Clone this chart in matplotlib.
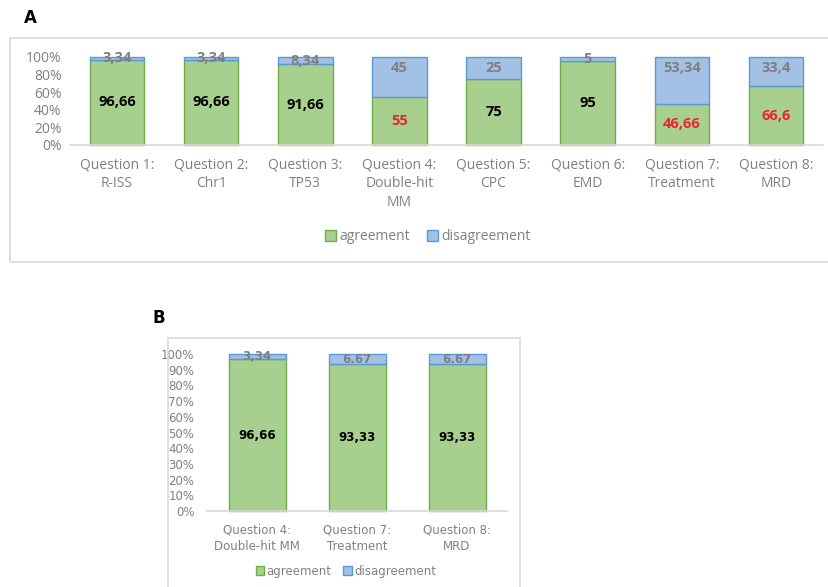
import numpy as np
import matplotlib.pyplot as plt
from matplotlib.patches import Rectangle

# dati pannello A
cat_a = ['Question 1:\nR-ISS', 'Question 2:\nChr1', 'Question 3:\nTP53', 'Question 4:\nDouble-hit\nMM',
         'Question 5:\nCPC', 'Question 6:\nEMD', 'Question 7:\nTreatment', 'Question 8:\nMRD']
agree_a = [96.66, 96.66, 91.66, 55, 75, 95, 46.66, 66.6]
disagree_a = [3.34, 3.34, 8.34, 45, 25, 5, 53.34, 33.4]
lab_agree_a = ['96,66', '96,66', '91,66', '55', '75', '95', '46,66', '66,6']
lab_dis_a = ['3,34', '3,34', '8,34', '45', '25', '5', '53,34', '33,4']
red_a = [False, False, False, True, False, False, True, True]

# dati pannello B
cat_b = ['Question 4:\nDouble-hit MM', 'Question 7:\nTreatment', 'Question 8:\nMRD']
agree_b = [96.66, 93.33, 93.33]
disagree_b = [3.34, 6.67, 6.67]
lab_agree_b = ['96,66', '93,33', '93,33']
lab_dis_b = ['3,34', '6.67', '6.67']

green = '#a7d08f'
green_e = '#70ad47'
blue = '#a3c1e5'
blue_e = '#5b9bd5'
grey = '#808080'

W, H = 829, 587
fig = plt.figure(figsize=(W/100, H/100), dpi=100)

# cornici
fig.patches.append(Rectangle((10/W, 1-262/H), 830/W, 224/H, transform=fig.transFigure,
                             fill=False, ec='#d9d9d9', lw=1.2))
fig.patches.append(Rectangle((168/W, -0.01), 352/W, (587-338)/H+0.01, transform=fig.transFigure,
                             fill=False, ec='#d9d9d9', lw=1.2))
fig.text(24/W, 1-18/H, 'A', fontsize=12, fontweight='bold', va='center', ha='left')
fig.text(153/W, 1-318/H, 'B', fontsize=12, fontweight='bold', va='center', ha='left')


def stile(ax, fam, fs):
    for s in ['top', 'right', 'left']:
        ax.spines[s].set_visible(False)
    ax.spines['bottom'].set_color('#d9d9d9')
    ax.spines['bottom'].set_linewidth(1.2)
    ax.tick_params(length=0, colors=grey)
    for t in ax.get_xticklabels() + ax.get_yticklabels():
        t.set_family(fam)
        t.set_fontsize(fs)
        t.set_color(grey)


# PANNELLO A
axA = fig.add_axes([70/W, 1-145/H, 753/W, 88/H])
x = np.arange(len(cat_a))
b1 = axA.bar(x, agree_a, 0.58, color=green, edgecolor=green_e, lw=1, label='agreement', clip_on=False)
b2 = axA.bar(x, disagree_a, 0.58, bottom=agree_a, color=blue, edgecolor=blue_e, lw=1,
             label='disagreement', clip_on=False)
axA.set_xlim(-0.5, len(cat_a)-0.5)
axA.set_ylim(0, 100)
axA.set_yticks(range(0, 101, 20))
axA.set_yticklabels([f'{v}%' for v in range(0, 101, 20)])
axA.set_xticks(x)
axA.set_xticklabels(cat_a, linespacing=1.35)
axA.tick_params(axis='x', pad=9)
axA.tick_params(axis='y', pad=6)
stile(axA, 'Open Sans', 10)
for i in range(len(cat_a)):
    axA.text(x[i], agree_a[i]/2, lab_agree_a[i], ha='center', va='center', fontsize=10.5,
             fontweight='bold', color='#e8262a' if red_a[i] else 'black', family='Open Sans')
    yd = max(agree_a[i] + disagree_a[i]/2, 87)
    axA.text(x[i], yd, lab_dis_a[i], ha='center', va='center', fontsize=10.5,
             fontweight='bold', color='#7f7f7f', family='Open Sans')
fig.legend(handles=[b1, b2], loc='center', bbox_to_anchor=(428/W, 1-237/H), ncol=2, frameon=False,
           handlelength=0.8, handleheight=0.8, handletextpad=0.25, columnspacing=1.2,
           prop={'family': 'Open Sans', 'size': 10}, labelcolor=grey)

# PANNELLO B
fam_b = ['Liberation Sans Narrow', 'DejaVu Sans']
axB = fig.add_axes([207/W, 1-511/H, 300/W, 157/H])
xb = np.arange(len(cat_b))
c1 = axB.bar(xb, agree_b, 0.57, color=green, edgecolor=green_e, lw=1, label='agreement', clip_on=False)
c2 = axB.bar(xb, disagree_b, 0.57, bottom=agree_b, color=blue, edgecolor=blue_e, lw=1,
             label='disagreement', clip_on=False)
axB.set_xlim(-0.5, len(cat_b)-0.5)
axB.set_ylim(0, 100)
axB.set_yticks(range(0, 101, 10))
axB.set_yticklabels([f'{v}%' for v in range(0, 101, 10)])
axB.set_xticks(xb)
axB.set_xticklabels(cat_b, linespacing=1.3)
axB.tick_params(axis='x', pad=9)
axB.tick_params(axis='y', pad=9)
stile(axB, fam_b, 8.5)
for i in range(len(cat_b)):
    axB.text(xb[i], agree_b[i]/2, lab_agree_b[i], ha='center', va='center', fontsize=8.5,
             fontweight='bold', color='black', family=fam_b)
    axB.text(xb[i], agree_b[i] + disagree_b[i]/2, lab_dis_b[i], ha='center', va='center', fontsize=8.5,
             fontweight='bold', color='#7f7f7f', family=fam_b)
fig.legend(handles=[c1, c2], loc='center', bbox_to_anchor=(346/W, 1-571/H), ncol=2, frameon=False,
           handlelength=0.7, handleheight=0.7, handletextpad=0.2, columnspacing=1.0,
           prop={'family': fam_b, 'size': 8.5}, labelcolor=grey)

fig.savefig('out.png', dpi=100)
